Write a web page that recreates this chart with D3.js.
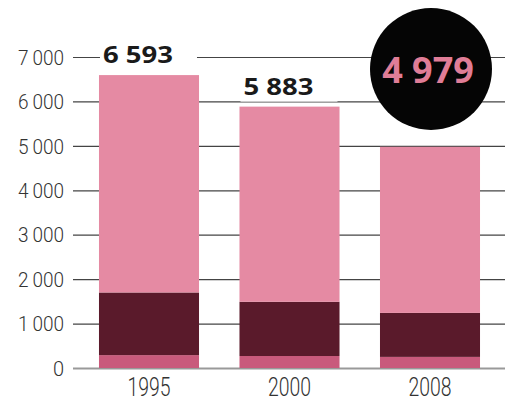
<!DOCTYPE html>
<html>
<head>
<meta charset="utf-8">
<script src="https://cdn.jsdelivr.net/npm/d3@7"></script>
<style>
  body { margin: 0; background: #fff; }
</style>
</head>
<body>
<script>
// chart data
var years = ["1995", "2000", "2008"];
var bottomPart = [290, 270, 250];
var middlePart = [1410, 1220, 990];
var totals = [6593, 5883, 4979];
var yTicks = [0, 1000, 2000, 3000, 4000, 5000, 6000, 7000];
var highlight = "4 979";

var colours = ["#c95a7c", "#5a1a2b", "#e58aa3"];
var axisFont = "'Liberation Sans Narrow', Roboto, sans-serif";

var width = 505, height = 402;

var svg = d3.select("body").append("svg")
    .attr("width", width)
    .attr("height", height);

var y = d3.scaleLinear().domain([0, 7000]).range([368, 57]);
var x = d3.scaleBand().domain(years).range([78.75, 500.25]).paddingInner(0.288).paddingOuter(0.144);

// build stacked rows
var rows = years.map(function(yr, i){
    return { year: yr, a: bottomPart[i], b: middlePart[i], c: totals[i] - bottomPart[i] - middlePart[i] };
});
var stack = d3.stack().keys(["a", "b", "c"]);
var series = stack(rows);

// gridlines + tick labels
var yAxis = d3.axisLeft(y)
    .tickValues(yTicks)
    .tickSize(-(width - 73))
    .tickPadding(9)
    .tickFormat(function(d){ return d3.format(",")(d).replace(",", "\u2009"); });

var ax = svg.append("g")
    .attr("transform", "translate(73,0)")
    .call(yAxis);
ax.select(".domain").remove();
ax.selectAll(".tick line").attr("stroke", "#444").attr("stroke-width", 1.2);
ax.selectAll(".tick").filter(function(d){ return d === 0; }).select("line").attr("stroke", "#999").attr("stroke-width", 2);
ax.selectAll(".tick text")
    .attr("font-family", axisFont)
    .attr("font-weight", 300)
    .attr("font-size", 20)
    .attr("fill", "#333")
    .attr("dy", "0.36em")
    .attr("textLength", function(d){ return d === 0 ? null : 46; })
    .attr("lengthAdjust", "spacingAndGlyphs");

// bars
svg.selectAll(".layer")
    .data(series)
    .enter().append("g")
    .attr("fill", function(d, i){ return colours[i]; })
    .selectAll("rect")
    .data(function(d){ return d; })
    .enter().append("rect")
    .attr("x", function(d){ return x(d.data.year); })
    .attr("width", x.bandwidth())
    .attr("y", function(d){ return y(d[1]); })
    .attr("height", function(d){ return y(d[0]) - y(d[1]); });

// year labels
svg.selectAll(".yr")
    .data(years)
    .enter().append("text")
    .attr("x", function(d){ return x(d) + x.bandwidth() / 2; })
    .attr("y", 396)
    .attr("text-anchor", "middle")
    .attr("font-family", axisFont)
    .attr("font-weight", 300)
    .attr("font-size", 25)
    .attr("fill", "#333")
    .attr("textLength", 43)
    .attr("lengthAdjust", "spacingAndGlyphs")
    .text(function(d){ return d; });

// value labels for first two bars (white box masks the gridline)
var fmt = function(v){ return d3.format(",")(v).replace(",", " "); };
[0, 1].forEach(function(i){
    var g = svg.append("g");
    var t = g.append("text")
        .attr("x", x(years[i]) + 4)
        .attr("y", y(totals[i]) - 12)
        .attr("font-family", "'Open Sans', sans-serif")
        .attr("font-weight", "bold")
        .attr("font-size", 23)
        .attr("fill", "#1a1a1a")
        .attr("textLength", 70)
        .attr("lengthAdjust", "spacingAndGlyphs")
        .text(fmt(totals[i]));
    var bb = t.node().getBBox();
    g.insert("rect", "text")
        .attr("x", bb.x - 3).attr("y", bb.y)
        .attr("width", bb.width + 27).attr("height", bb.height)
        .attr("fill", "#fff");
});

// black circle badge
svg.append("circle")
    .attr("cx", 431).attr("cy", 69).attr("r", 61)
    .attr("fill", "#050505");
svg.append("text")
    .attr("x", 428).attr("y", 83)
    .attr("text-anchor", "middle")
    .attr("font-family", "'Open Sans', sans-serif")
    .attr("font-weight", "bold")
    .attr("font-size", 36)
    .attr("fill", "#e07d97")
    .text(highlight);
</script>
</body>
</html>
